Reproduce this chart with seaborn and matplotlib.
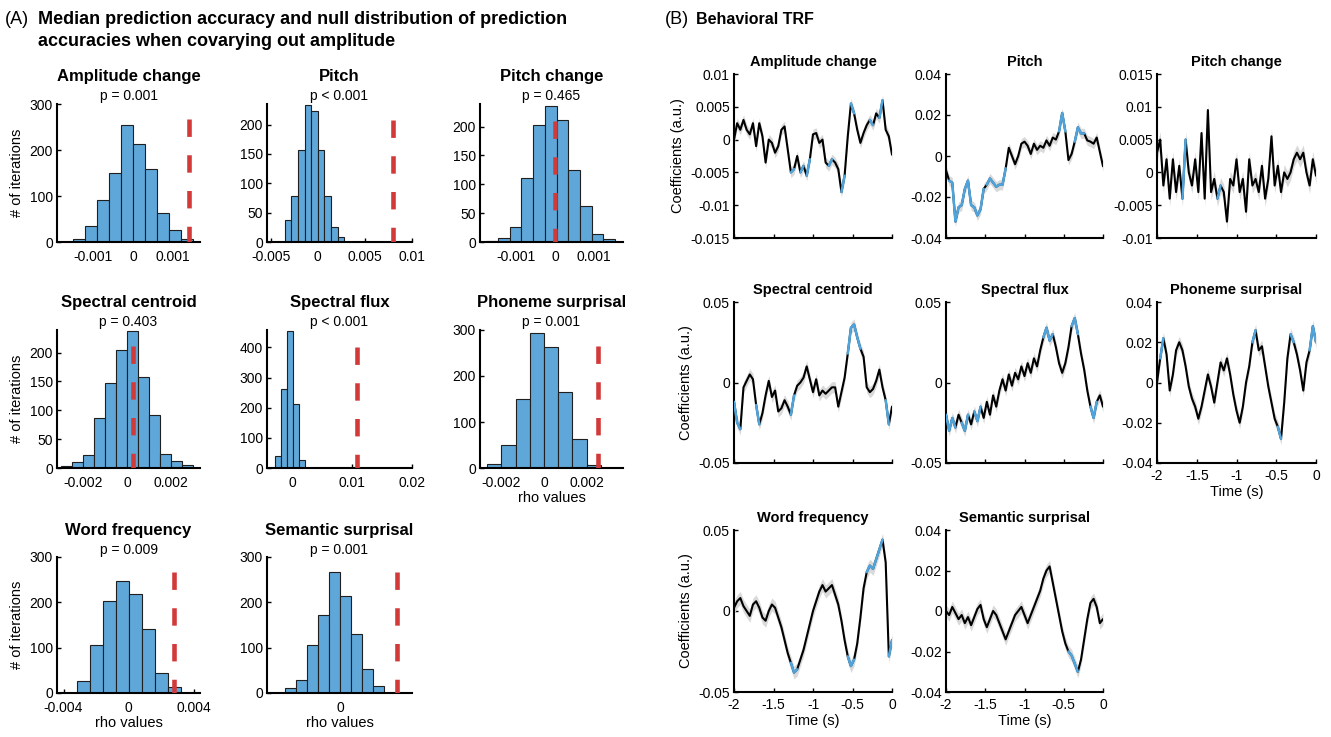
"""
Null distributions of prediction accuracy (A) and behavioural TRFs (B).
Values read off the published figure.
"""

import numpy as np
import matplotlib
matplotlib.use("Agg")
import matplotlib.pyplot as plt
import seaborn as sns

sns.set_theme(style="ticks")
plt.rcParams["font.family"] = ["Liberation Sans", "DejaVu Sans"]
plt.rcParams["axes.unicode_minus"] = False
plt.rcParams["text.color"] = "black"
plt.rcParams["axes.labelcolor"] = "black"

W, H = 1331, 737

# ── (A) null distributions ───────────────────────────────────────────────────
feature_names = ["Amplitude change", "Pitch", "Pitch change", "Spectral centroid",
                 "Spectral flux", "Phoneme surprisal", "Word frequency",
                 "Semantic surprisal"]
p_labels = ["p = 0.001", "p < 0.001", "p = 0.465", "p = 0.403",
            "p < 0.001", "p = 0.001", "p = 0.009", "p = 0.001"]

amp_edges = [-0.0015, -0.0012, -0.0009, -0.0006, -0.0003, 0.0, 0.0003, 0.0006,
             0.0009, 0.0012, 0.0015]
amp_counts = [7, 34, 91, 151, 255, 212, 159, 62, 26, 6]

pitch_edges = [-0.0035, -0.0028, -0.0021, -0.0014, -0.0007, 0.0, 0.0007, 0.0014,
               0.0021, 0.0028]
pitch_counts = [37, 79, 157, 234, 223, 156, 78, 25, 8]

pchg_edges = [-0.00176, -0.00146, -0.00116, -0.00086, -0.00056, -0.00026, 0.00004,
              0.00034, 0.00064, 0.00094, 0.00124, 0.00154]
pchg_counts = [2, 7, 26, 111, 203, 236, 211, 125, 62, 13, 5]

cent_edges = [-0.003, -0.0025, -0.002, -0.0015, -0.001, -0.0005, 0.0, 0.0005,
              0.001, 0.0015, 0.002, 0.0025, 0.003]
cent_counts = [3, 10, 22, 86, 148, 205, 238, 158, 91, 25, 12, 6]

flux_edges = [-0.003, -0.002, -0.001, 0.0, 0.001, 0.002]
flux_counts = [39, 261, 455, 214, 25]

phon_edges = [-0.002667, -0.002, -0.001333, -0.000667, 0.0, 0.000667, 0.001333,
              0.002, 0.002667]
phon_counts = [9, 51, 150, 294, 263, 166, 63, 6]

word_edges = [-0.0032, -0.0024, -0.0016, -0.0008, 0.0, 0.0008, 0.0016, 0.0024, 0.0032]
word_counts = [26, 105, 203, 247, 218, 142, 44, 13]

sem_edges = [-0.003, -0.0024, -0.0018, -0.0012, -0.0006, 0.0, 0.0006, 0.0012,
             0.0018, 0.0024]
sem_counts = [10, 29, 105, 173, 267, 214, 130, 53, 16]

# observed median prediction accuracy (red dashed line)
observed_rho = [0.0014, 0.008, 0.0, 0.00027, 0.0108, 0.00254, 0.00277, 0.0031]

# ── (B) behavioural TRFs ─────────────────────────────────────────────────────
TIME = [-2.0, -1.96, -1.92, -1.88, -1.84, -1.8, -1.76, -1.72, -1.68, -1.64,
        -1.6, -1.56, -1.52, -1.48, -1.44, -1.4, -1.36, -1.32, -1.28, -1.24,
        -1.2, -1.16, -1.12, -1.08, -1.04, -1.0, -0.96, -0.92, -0.88, -0.84,
        -0.8, -0.76, -0.72, -0.68, -0.64, -0.6, -0.56, -0.52, -0.48, -0.44,
        -0.4, -0.36, -0.32, -0.28, -0.24, -0.2, -0.16, -0.12, -0.08, -0.04, 0.0]

amp_trf = [0.0, 0.0025, 0.0015, 0.003, 0.0015, 0.0008, 0.0025, -0.001, 0.0025, 0.0005,
           -0.0035, 0.0, -0.0005, -0.002, -0.001, 0.0015, 0.002, -0.0015, -0.005, -0.0045,
           -0.0025, -0.005, -0.004, -0.0055, -0.003, 0.0008, 0.001, -0.0005, 0.0, -0.0035,
           -0.004, -0.003, -0.0035, -0.0045, -0.008, -0.0055, 0.0005, 0.0055, 0.004, 0.0015,
           -0.0005, 0.001, 0.0022, 0.003, 0.0022, 0.004, 0.0033, 0.006, 0.0015, 0.0005, -0.0023]
pitch_trf = [-0.007, -0.012, -0.013, -0.032, -0.025, -0.024, -0.016, -0.012, -0.024, -0.025,
             -0.029, -0.026, -0.016, -0.014, -0.011, -0.013, -0.015, -0.014, -0.014, -0.006,
             0.004, 0.0, -0.004, 0.0, 0.006, 0.007, 0.005, 0.001, 0.006, 0.003,
             0.005, 0.004, 0.0076, 0.005, 0.009, 0.008, 0.012, 0.021, 0.012, -0.002,
             0.001, 0.007, 0.014, 0.011, 0.011, 0.0076, 0.007, 0.006, 0.009, 0.002, -0.005]
pchg_trf = [0.003, 0.005, -0.002, 0.002, -0.004, 0.002, -0.003, 0.001, -0.004, 0.005,
            0.0, -0.002, 0.002, -0.003, 0.006, -0.004, 0.0095, -0.003, -0.001, -0.004,
            -0.002, -0.003, -0.0075, -0.001, -0.002, 0.002, -0.003, -0.001, -0.006, 0.002,
            -0.002, -0.001, -0.003, 0.001, -0.004, -0.001, 0.0055, -0.002, 0.001, -0.003,
            0.0, -0.001, 0.0, 0.002, 0.003, 0.002, 0.003, 0.0, -0.002, 0.002, -0.0005]
cent_trf = [-0.012, -0.025, -0.029, -0.003, 0.001, 0.005, 0.002, -0.014, -0.026, -0.019,
            -0.008, 0.001, -0.009, -0.005, -0.018, -0.016, -0.011, -0.015, -0.020, -0.008,
            -0.002, 0.0, 0.003, 0.010, 0.002, -0.006, 0.002, -0.008, -0.005, -0.007,
            -0.005, -0.003, -0.003, -0.015, -0.006, 0.003, 0.018, 0.034, 0.036, 0.028,
            0.021, 0.016, -0.003, -0.006, -0.004, 0.001, 0.008, -0.003, -0.011, -0.026, -0.015]
flux_trf = [-0.02, -0.03, -0.022, -0.028, -0.02, -0.025, -0.03, -0.02, -0.026, -0.018,
            -0.024, -0.015, -0.022, -0.012, -0.02, -0.008, -0.015, -0.005, 0.002, -0.005,
            0.005, -0.002, 0.006, 0.002, 0.010, 0.004, 0.012, 0.006, 0.015, 0.010,
            0.020, 0.028, 0.034, 0.026, 0.030, 0.022, 0.012, 0.006, 0.012, 0.022,
            0.035, 0.040, 0.030, 0.018, 0.008, -0.005, -0.015, -0.022, -0.012, -0.008, -0.015]
phon_trf = [0.0, 0.012, 0.022, 0.014, -0.004, 0.004, 0.016, 0.020, 0.016, 0.008,
            -0.002, -0.008, -0.012, -0.018, -0.012, -0.004, 0.004, -0.002, -0.010, 0.0,
            0.010, 0.006, 0.012, 0.004, -0.006, -0.014, -0.020, -0.012, 0.0, 0.008,
            0.020, 0.026, 0.016, 0.018, 0.008, -0.002, -0.010, -0.018, -0.022, -0.028,
            -0.010, 0.012, 0.024, 0.020, 0.014, 0.006, -0.004, 0.010, 0.016, 0.028, 0.020]
word_trf = [0.002, 0.006, 0.008, 0.003, 0.0, -0.003, 0.004, 0.006, 0.002, -0.004,
            -0.006, 0.0, 0.004, 0.002, -0.004, -0.010, -0.018, -0.026, -0.032, -0.038,
            -0.036, -0.030, -0.024, -0.016, -0.008, 0.0, 0.006, 0.012, 0.016, 0.012,
            0.014, 0.016, 0.010, 0.004, -0.006, -0.018, -0.028, -0.034, -0.030, -0.020,
            -0.004, 0.014, 0.024, 0.028, 0.026, 0.032, 0.038, 0.044, 0.030, -0.028, -0.018]
sem_trf = [0.0, -0.002, 0.002, -0.001, -0.004, -0.002, -0.006, -0.003, -0.007, -0.003,
           0.001, 0.003, -0.004, -0.008, -0.004, 0.0, -0.002, -0.006, -0.010, -0.014,
           -0.010, -0.006, -0.002, 0.0, 0.002, -0.002, -0.006, -0.002, 0.002, 0.006,
           0.010, 0.016, 0.020, 0.022, 0.014, 0.006, -0.002, -0.010, -0.016, -0.020,
           -0.022, -0.026, -0.030, -0.024, -0.014, -0.004, 0.004, 0.006, 0.002, -0.006, -0.004]

# significant time windows (s), drawn in blue
amp_sig = [(-1.28, -1.24), (-1.16, -1.12), (-1.08, -1.04), (-0.80, -0.76),
           (-0.64, -0.60), (-0.52, -0.48), (-0.28, -0.24), (-0.16, -0.12)]
pitch_sig = [(-1.96, -1.52), (-1.48, -1.24), (-0.56, -0.48), (-0.36, -0.24)]
pchg_sig = [(-1.68, -1.64), (-1.24, -1.20)]
cent_sig = [(-2.0, -1.92), (-1.72, -1.68), (-1.28, -1.24), (-0.56, -0.40), (-0.08, -0.04)]
flux_sig = [(-2.0, -1.88), (-1.80, -1.72), (-1.64, -1.56), (-0.76, -0.64),
            (-0.40, -0.32), (-0.16, -0.08)]
phon_sig = [(-1.96, -1.92), (-0.80, -0.76), (-0.48, -0.44), (-0.32, -0.28), (-0.08, 0.0)]
word_sig = [(-1.28, -1.20), (-0.56, -0.48), (-0.32, -0.12), (-0.04, 0.0)]
sem_sig = [(-0.44, -0.32)]

BAR = "#5fa7d9"
RED = "#d23a3a"
BLUE = "#4fa4dc"


def px_box(x0, y0, x1, y1):
    return [x0 / W, 1 - y1 / H, (x1 - x0) / W, (y1 - y0) / H]


def fmt(v):
    return "0" if abs(v) < 1e-12 else f"{v:.4g}"


def style_axes(ax, xpad=4):
    sns.despine(ax=ax)
    for s in ["left", "bottom"]:
        ax.spines[s].set_linewidth(1.5)
        ax.spines[s].set_color("black")
    ax.tick_params(direction="in", length=3, width=1.0, labelsize=10, pad=3,
                   colors="black")
    ax.tick_params(axis="x", pad=xpad)
    ax.set_facecolor("none")


fig = plt.figure(figsize=(W / 100, H / 100), dpi=100)

# headers
fig.text(5 / W, 1 - 20 / H, "(A)", fontsize=13, va="center")
fig.text(38 / W, 1 - 20 / H, "Median prediction accuracy and null distribution of prediction",
         fontsize=13, fontweight="bold", va="center")
fig.text(38 / W, 1 - 42 / H, "accuracies when covarying out amplitude",
         fontsize=13, fontweight="bold", va="center")
fig.text(665 / W, 1 - 20 / H, "(B)", fontsize=13, va="center")
fig.text(696 / W, 1 - 20 / H, "Behavioral TRF", fontsize=11.5, fontweight="bold", va="center")

# ── histograms ──
hist_cols = [(57, 200), (267, 412), (480, 623)]
hist_rows = [(104, 242), (330, 468), (557, 693)]
hist_data = [(amp_edges, amp_counts), (pitch_edges, pitch_counts), (pchg_edges, pchg_counts),
             (cent_edges, cent_counts), (flux_edges, flux_counts), (phon_edges, phon_counts),
             (word_edges, word_counts), (sem_edges, sem_counts)]
hist_layout = [
    dict(xlim=(-0.0019, 0.00168), xticks=[-0.001, 0, 0.001], ylim=300, yticks=[0, 100, 200, 300], top=267),
    dict(xlim=(-0.0054, 0.01), xticks=[-0.005, 0, 0.005, 0.01], ylim=235, yticks=[0, 50, 100, 150, 200], top=207),
    dict(xlim=(-0.00192, 0.00174), xticks=[-0.001, 0, 0.001], ylim=239, yticks=[0, 50, 100, 150, 200], top=210),
    dict(xlim=(-0.00318, 0.0033), xticks=[-0.002, 0, 0.002], ylim=239, yticks=[0, 50, 100, 150, 200], top=211),
    dict(xlim=(-0.0043, 0.02), xticks=[0, 0.01, 0.02], ylim=458, yticks=[0, 100, 200, 300, 400], top=402),
    dict(xlim=(-0.003, 0.0037), xticks=[-0.002, 0, 0.002], ylim=300, yticks=[0, 100, 200, 300], top=265),
    dict(xlim=(-0.0044, 0.0044), xticks=[-0.004, 0, 0.004], ylim=300, yticks=[0, 100, 200, 300], top=267),
    dict(xlim=(-0.004, 0.0039), xticks=[-0.002, 0, 0.002], ylim=300, yticks=[0, 100, 200, 300], top=267),
]

for i, ((edges, counts), lay) in enumerate(zip(hist_data, hist_layout)):
    r, c = divmod(i, 3)
    ax = fig.add_axes(px_box(hist_cols[c][0], hist_rows[r][0], hist_cols[c][1], hist_rows[r][1]))
    centers = (np.array(edges[:-1]) + np.array(edges[1:])) / 2
    sns.histplot(x=centers, weights=counts, bins=edges, ax=ax, color=BAR,
                 edgecolor="#1f1f1f", linewidth=0.8, alpha=1)
    ax.plot([observed_rho[i], observed_rho[i]], [lay["top"], 0], color=RED, lw=3.3,
            ls=(0, (3.8, 4.0)), solid_capstyle="butt", dash_capstyle="butt", zorder=5)
    ax.set_xlim(*lay["xlim"])
    ax.set_ylim(0, lay["ylim"])
    ax.set_xticks(lay["xticks"])
    if i == 7:
        ax.set_xticklabels(["" if v != 0 else "0" for v in lay["xticks"]])
    else:
        ax.set_xticklabels([fmt(v) for v in lay["xticks"]])
    ax.set_yticks(lay["yticks"])
    ax.set_yticklabels([fmt(v) for v in lay["yticks"]])
    ax.set_ylabel("# of iterations" if c == 0 else "", fontsize=10.5)
    ax.set_xlabel("rho values" if i >= 5 else "", fontsize=10.5, labelpad=1)
    style_axes(ax, xpad=5.5)
    ax.text(0.5, 1.196, feature_names[i], transform=ax.transAxes, ha="center",
            va="center", fontsize=12, fontweight="bold")
    ax.text(0.5, 1.055, p_labels[i], transform=ax.transAxes, ha="center",
            va="center", fontsize=10)

# ── TRFs ──
trf_cols = [(734, 892), (946, 1103), (1157, 1316)]
trf_rows = [(74, 238), (302, 463), (530, 692)]
trf_data = [(amp_trf, amp_sig), (pitch_trf, pitch_sig), (pchg_trf, pchg_sig),
            (cent_trf, cent_sig), (flux_trf, flux_sig), (phon_trf, phon_sig),
            (word_trf, word_sig), (sem_trf, sem_sig)]
trf_layout = [
    dict(ylim=(-0.015, 0.01), yticks=[-0.015, -0.01, -0.005, 0, 0.005, 0.01], se=0.0008),
    dict(ylim=(-0.04, 0.04), yticks=[-0.04, -0.02, 0, 0.02, 0.04], se=0.0025),
    dict(ylim=(-0.01, 0.015), yticks=[-0.01, -0.005, 0, 0.005, 0.01, 0.015], se=0.0012),
    dict(ylim=(-0.05, 0.05), yticks=[-0.05, 0, 0.05], se=0.0035),
    dict(ylim=(-0.05, 0.05), yticks=[-0.05, 0, 0.05], se=0.0035),
    dict(ylim=(-0.04, 0.04), yticks=[-0.04, -0.02, 0, 0.02, 0.04], se=0.003),
    dict(ylim=(-0.05, 0.05), yticks=[-0.05, 0, 0.05], se=0.004),
    dict(ylim=(-0.04, 0.04), yticks=[-0.04, -0.02, 0, 0.02, 0.04], se=0.003),
]
time_ticks = [-2, -1.5, -1, -0.5, 0]
t = np.array(TIME)

for i, ((vals, sig), lay) in enumerate(zip(trf_data, trf_layout)):
    r, c = divmod(i, 3)
    ax = fig.add_axes(px_box(trf_cols[c][0], trf_rows[r][0], trf_cols[c][1], trf_rows[r][1]))
    v = np.array(vals)
    ax.fill_between(t, v - lay["se"], v + lay["se"], color="#d9d9d9", lw=0, zorder=1)
    sns.lineplot(x=t, y=v, ax=ax, color="black", lw=1.5, estimator=None, sort=False, zorder=2)
    for a, b in sig:
        m = (t >= a - 1e-9) & (t <= b + 1e-9)
        sns.lineplot(x=t[m], y=v[m], ax=ax, color=BLUE, lw=1.8, estimator=None,
                     sort=False, zorder=3)
    ax.set_xlim(-2, 0)
    ax.set_ylim(*lay["ylim"])
    ax.set_xticks(time_ticks)
    bottom = i >= 5
    ax.set_xticklabels([fmt(x) for x in time_ticks] if bottom else [])
    ax.set_xlabel("Time (s)" if bottom else "", fontsize=10.5, labelpad=2)
    ax.set_yticks(lay["yticks"])
    ax.set_yticklabels([fmt(y) for y in lay["yticks"]])
    ax.set_ylabel("Coefficients (a.u.)" if c == 0 else "", fontsize=10.5)
    style_axes(ax)
    ax.text(0.5, 1.075, feature_names[i], transform=ax.transAxes, ha="center",
            va="center", fontsize=10.5, fontweight="bold")

fig.savefig("out.png", dpi=100)
